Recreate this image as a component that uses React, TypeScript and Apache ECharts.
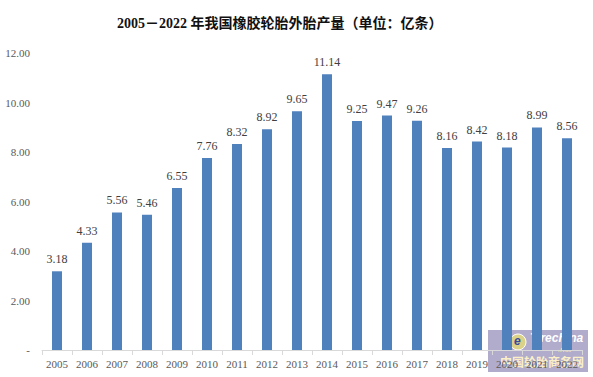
import React, { useEffect, useRef } from "react";
import * as echarts from "echarts";

const years = ["2005","2006","2007","2008","2009","2010","2011","2012","2013","2014","2015","2016","2017","2018","2019","2020","2021","2022"];
const output = [3.18, 4.33, 5.56, 5.46, 6.55, 7.76, 8.32, 8.92, 9.65, 11.14, 9.25, 9.47, 9.26, 8.16, 8.42, 8.18, 8.99, 8.56];
const titleText = "2005\uFF0D2022 年我国橡胶轮胎外胎产量（单位：亿条）";

const serif = "'Liberation Serif', 'Times New Roman', 'Noto Sans CJK SC', serif";

export default function App() {
  const ref = useRef<HTMLDivElement>(null);
  useEffect(() => {
    const chart = echarts.init(ref.current!, null, { renderer: "svg" });
    chart.setOption({
      animation: false,
      backgroundColor: "#ffffff",
      title: {
        text: titleText,
        left: 112,
        top: 11,
        textStyle: { fontFamily: serif, fontWeight: "bold", fontSize: 14, color: "#111" },
      },
      grid: { left: 42, right: 11, top: 53, bottom: 27, containLabel: false },
      xAxis: {
        type: "category",
        data: years,
        axisLine: { lineStyle: { color: "#d9d9d9" } },
        axisTick: { show: true, length: 5, lineStyle: { color: "#d9d9d9" } },
        axisLabel: { interval: 0, fontFamily: serif, fontSize: 11, color: "#595959", margin: 8 },
      },
      yAxis: {
        type: "value",
        min: 0,
        max: 12,
        interval: 2,
        splitLine: { show: false },
        axisLine: { show: false },
        axisTick: { show: false },
        axisLabel: {
          fontFamily: serif,
          fontSize: 11,
          color: "#595959",
          margin: 12,
          formatter: (v: number) => (v === 0 ? "-" : v.toFixed(2)),
        },
      },
      series: [
        {
          type: "bar",
          data: output,
          barWidth: 10,
          itemStyle: { color: "#4f81bd" },
          label: {
            show: true,
            position: "top",
            distance: 6,
            fontFamily: serif,
            fontSize: 12,
            color: "#404040",
            formatter: (p: any) => Number(p.value).toFixed(2),
          },
        },
      ],
      graphic: [
        {
          type: "group",
          left: 488,
          top: 330,
          children: [
            { type: "rect", shape: { x: 0, y: 0, width: 100, height: 42 }, style: { fill: "rgba(125,115,170,0.6)" } },
            { type: "circle", shape: { cx: 30, cy: 12, r: 8 }, style: { fill: "rgba(230,220,120,0.8)", stroke: "#ffffff", lineWidth: 1 } },
            { type: "text", style: { x: 26, y: 5, text: "e", fill: "#3a4a9a", font: "bold italic 12px 'Liberation Sans', sans-serif" } },
            { type: "text", style: { x: 42, y: 2, text: "Tirechina", fill: "#ffffff", font: "bold italic 12px 'Liberation Sans', sans-serif" } },
            { type: "text", style: { x: 70, y: 15, text: ".net", fill: "#f2e8a0", font: "italic 8px 'Liberation Sans', sans-serif" } },
            { type: "text", style: { x: 12, y: 25, text: "中国轮胎商务网", fill: "rgba(255,245,200,0.95)", font: "bold 12px 'Noto Sans CJK SC', sans-serif" } },
          ],
        },
      ],
    });
    return () => chart.dispose();
  }, []);
  return <div ref={ref} style={{ width: 593, height: 377, position: "absolute", left: 0, top: 0 }} />;
}
